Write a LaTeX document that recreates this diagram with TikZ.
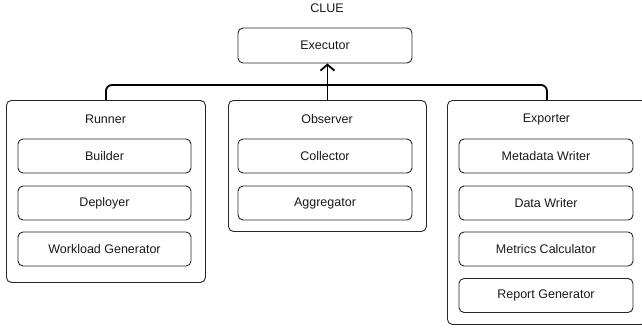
\documentclass[tikz,border=0pt]{standalone}
\usepackage{fontspec}
\setmainfont{Liberation Sans}
\usetikzlibrary{arrows.meta}
\begin{document}
\begin{tikzpicture}[x=1pt,y=-1pt,
  every node/.style={font=\fontsize{12.5}{15}\selectfont, text=black!90},
  outer/.style={draw=black!85, line width=0.9pt, rounded corners=5pt, anchor=north west, inner sep=0pt},
  inner/.style={draw=black!85, line width=0.9pt, rounded corners=5pt, minimum height=34pt, inner sep=0pt},
  title/.style={anchor=center},
  bus/.style={draw=black, line width=1.8pt, rounded corners=6pt},
  arr/.style={draw=black, line width=1.8pt, -{Straight Barb[length=6pt,width=14pt,line width=1.8pt]}}]
\useasboundingbox (0,0) rectangle (642,329);
\node[title] (clue) at (327,8) {CLUE};
\node[inner, minimum width=174pt, minimum height=35pt] (executor) at (325,45.5) {Executor};

\node[outer, minimum width=199pt, minimum height=182pt] (runner) at (6,100) {};
\node[outer, minimum width=198pt, minimum height=131pt] (observer) at (228,100) {};
\node[outer, minimum width=199pt, minimum height=224pt] (exporter) at (447,100) {};

\node[title] (runnerT) at (105.5,119) {Runner};
\node[title] (observerT) at (327,119) {Observer};
\node[title] (exporterT) at (546.5,119) {Exporter};

\node[inner, minimum width=173pt] (builder) at (104.5,156) {Builder};
\node[inner, minimum width=173pt] (deployer) at (104.5,203) {Deployer};
\node[inner, minimum width=173pt] (workload) at (104.5,249) {Workload Generator};

\node[inner, minimum width=174pt] (collector) at (325,156) {Collector};
\node[inner, minimum width=174pt] (aggregator) at (325,203) {Aggregator};

\node[inner, minimum width=174pt] (metadata) at (546,156) {Metadata Writer};
\node[inner, minimum width=174pt] (datawriter) at (546,203) {Data Writer};
\node[inner, minimum width=174pt] (metrics) at (546,249) {Metrics Calculator};
\node[inner, minimum width=174pt] (report) at (546,295.5) {Report Generator};

\draw[bus] (runner.north) -- ++(0,-15) -| (exporter.north);
\draw[arr] (observer.north) -- (observer.north |- executor.south);
\end{tikzpicture}
\end{document}
